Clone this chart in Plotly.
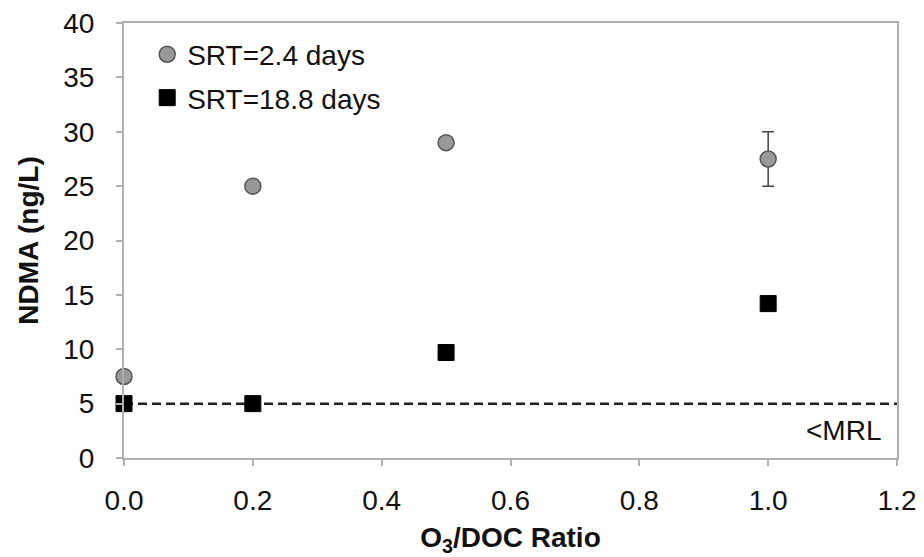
import plotly.graph_objects as go

ratio = [0.0, 0.2, 0.5, 1.0]
srt_short = [7.5, 25.0, 29.0, 27.5]
srt_short_err = [None, None, None, 2.5]
srt_long = [5.0, 5.0, 9.7, 14.2]
mrl_level = 5
mrl_x = [0.0, 1.2]

FONT = "Liberation Sans, Arial, sans-serif"
FS = 28

fig = go.Figure()
fig.add_trace(go.Scatter(
    x=mrl_x, y=[mrl_level, mrl_level], mode="lines",
    line=dict(color="#222222", width=2.5, dash="9px,5px"),
    showlegend=False, hoverinfo="skip", cliponaxis=False))
fig.add_trace(go.Scatter(
    x=ratio, y=srt_short, mode="markers", name="SRT=2.4 days",
    marker=dict(symbol="circle", size=16, color="#999999",
                line=dict(color="#555555", width=1.5)),
    error_y=dict(type="data", array=srt_short_err, visible=True,
                 color="#444444", thickness=1.5, width=6),
    legendgroup="a", cliponaxis=False))
fig.add_trace(go.Scatter(
    x=ratio, y=srt_long, mode="markers", name="SRT=18.8 days",
    marker=dict(symbol="square", size=16, color="#000000",
                line=dict(color="#000000", width=1)),
    legendgroup="b", cliponaxis=False))

fig.add_annotation(x=1.178, y=2.55, xref="x", yref="y", text="&lt;MRL",
                   showarrow=False, xanchor="right", yanchor="middle",
                   font=dict(size=FS, color="#111111", family=FONT))

axis_common = dict(showline=True, linecolor="#b0b0b0", linewidth=2,
                   ticks="outside", tickcolor="#b0b0b0", ticklen=6, tickwidth=1.5,
                   showgrid=False, zeroline=False, mirror=True,
                   ticklabeloverflow="allow", automargin=False,
                   tickfont=dict(size=FS, color="#111111", family=FONT))

fig.update_layout(
    width=916, height=549,
    margin=dict(l=116, r=27, t=15, b=99),
    paper_bgcolor="white", plot_bgcolor="white",
    font=dict(family=FONT, color="#111111"),
    xaxis=dict(range=[0, 1.2], tickvals=[0, 0.2, 0.4, 0.6, 0.8, 1.0, 1.2],
               ticktext=["0.0", "0.2", "0.4", "0.6", "0.8", "1.0", "1.2"],
               ticklabelstandoff=10,
               title=dict(text="<b>O<sub>3</sub>/DOC Ratio</b>", font=dict(size=FS, family=FONT), standoff=16),
               **axis_common),
    yaxis=dict(range=[0, 40], tickvals=list(range(0, 45, 5)),
               ticklabelstandoff=16,
               title=dict(text="<b>NDMA (ng/L)</b>", font=dict(size=FS, family=FONT), standoff=16),
               **axis_common),
    legend=dict(x=0.03, y=0.985, xanchor="left", yanchor="top",
                bgcolor="rgba(0,0,0,0)", font=dict(size=FS, family=FONT, color="#111111"),
                itemwidth=30, tracegroupgap=4, traceorder="grouped"),
)

fig.write_html("out.html")
